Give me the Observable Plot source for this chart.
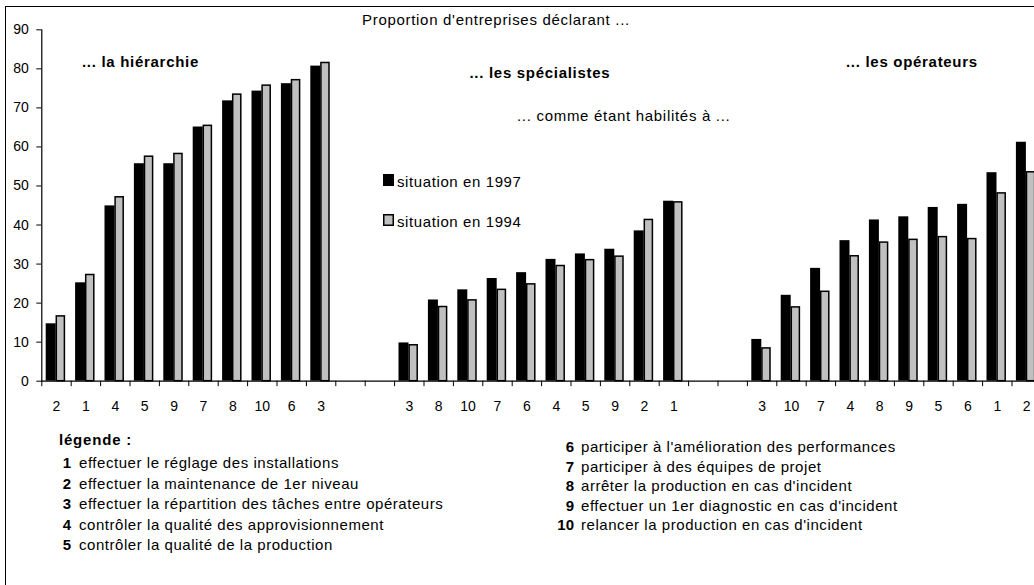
<!DOCTYPE html>
<html>
<head>
<meta charset="utf-8">
<script src="https://cdn.jsdelivr.net/npm/d3@7"></script>
<script src="https://cdn.jsdelivr.net/npm/@observablehq/plot@0.6"></script>
<style>
  html, body { margin: 0; padding: 0; overflow: hidden; background: #fff; }
  #wrap { position: relative; width: 1034px; height: 585px; overflow: hidden; }
  #border { position: absolute; left: 5px; top: 6px; width: 1200px; height: 800px; border: 1.5px solid #000; box-sizing: border-box; }
  #chart { position: absolute; left: 0; top: 0; width: 1060px; }
  #chart svg { max-width: none !important; }
  svg text.ann { font-family: "Liberation Sans", Arial, sans-serif; font-size: 15px; letter-spacing: 0.7px; fill: #000; text-anchor: start; }
</style>
</head>
<body>
<div id="wrap"><div id="border"></div><div id="chart"></div></div>
<script>
// ---- data ----
const groupTitles = ["... la hiérarchie", "... les spécialistes", "... les opérateurs"];
const labelsHier = ["2", "1", "4", "5", "9", "7", "8", "10", "6", "3"];
const hier1997 = [14.7, 25.2, 44.9, 55.7, 55.7, 65.1, 71.8, 74.3, 76.2, 80.7];
const hier1994 = [16.6, 27.2, 47.1, 57.5, 58.2, 65.4, 73.4, 75.7, 77.1, 81.5];
const labelsSpec = ["3", "8", "10", "7", "6", "4", "5", "9", "2", "1"];
const spec1997 = [9.8, 20.8, 23.4, 26.3, 27.8, 31.2, 32.6, 33.8, 38.5, 46.1];
const spec1994 = [9.2, 19.0, 20.7, 23.4, 24.8, 29.5, 31.0, 31.9, 41.3, 45.8];
const labelsOper = ["3", "10", "7", "4", "8", "9", "5", "6", "1", "2"];
const oper1997 = [10.7, 22.0, 28.9, 36.0, 41.3, 42.1, 44.5, 45.3, 53.4, 61.2];
const oper1994 = [8.4, 18.9, 22.9, 32.0, 35.5, 36.2, 36.9, 36.4, 48.1, 53.5];
const seriesNames = ["situation en 1997", "situation en 1994"];
const yTicks = [0, 10, 20, 30, 40, 50, 60, 70, 80, 90];
const title = "Proportion d'entreprises déclarant ...";
const subtitle = "... comme étant habilités à ...";
const legendTitle = "légende :";
const legendNums = ["1", "2", "3", "4", "5", "6", "7", "8", "9", "10"];
const legendTexts = [
  "effectuer le réglage des installations",
  "effectuer la maintenance de 1er niveau",
  "effectuer la répartition des tâches entre opérateurs",
  "contrôler la qualité des approvisionnement",
  "contrôler la qualité de la production",
  "participer à l'amélioration des performances",
  "participer à des équipes de projet",
  "arrêter la production en cas d'incident",
  "effectuer un 1er diagnostic en cas d'incident",
  "relancer la production en cas d'incident"
];

// ---- build slots ----
const groups = [
  {key: "H", labels: labelsHier, a: hier1997, b: hier1994},
  {key: "S", labels: labelsSpec, a: spec1997, b: spec1994},
  {key: "O", labels: labelsOper, a: oper1997, b: oper1994}
];
const slots = [];
const slotLabel = new Map();
const rows = [];
groups.forEach((g, gi) => {
  if (gi > 0) { slots.push(`gap${gi}a`); slots.push(`gap${gi}b`); }
  g.labels.forEach((lab, i) => {
    const id = `${g.key}-${lab}`;
    slots.push(id);
    slotLabel.set(id, lab);
    rows.push({slot: id, v1997: g.a[i], v1994: g.b[i]});
  });
});

const W = 1060, H = 585, ML = 41.3, MT = 29.3, MB = H - 380.7;
const bw = 29.4;
const MR = W - ML - bw * slots.length;

const chart = Plot.plot({
  width: W,
  height: H,
  marginLeft: ML,
  marginRight: MR,
  marginTop: MT,
  marginBottom: MB,
  style: {fontFamily: "'Liberation Sans', Arial, sans-serif", fontSize: "14px", background: "transparent", overflow: "visible", maxWidth: "none"},
  x: {type: "band", domain: slots, padding: 0, round: false, axis: null},
  y: {domain: [0, 90], axis: null},
  marks: [
    Plot.barY(rows, {x: "slot", y: "v1997", fill: "#000", insetLeft: 4.4, insetRight: 15}),
    Plot.barY(rows, {x: "slot", y: "v1994", fill: "#c0c0c0", stroke: "#000", strokeWidth: 1.5, insetLeft: 15, insetRight: 6.3}),
    Plot.ruleY([0], {stroke: "#000", strokeWidth: 1.2}),
    Plot.frame({anchor: "left", stroke: "#000", strokeWidth: 1.2}),
    Plot.ruleX(slots, {x: d => d, y1: 0, y2: -1.4, dx: -bw / 2, stroke: "#000", strokeWidth: 1}),
    Plot.axisY({ticks: yTicks, tickSize: 5, tickPadding: 8, fontSize: 14, label: null}),
    Plot.axisX({ticks: slots.filter(s => slotLabel.has(s)), tickSize: 0, tickPadding: 20, fontSize: 14, label: null, tickFormat: s => slotLabel.get(s)})
  ]
});
document.getElementById("chart").appendChild(chart);

// ---- annotations ----
const svg = d3.select(chart);
const ann = svg.append("g").attr("text-anchor", "start");
function txt(x, y, s, opts = {}) {
  const t = ann.append("text").attr("class", "ann").attr("x", x).attr("y", y).attr("text-anchor", opts.anchor || "start").text(s);
  if (opts.anchor) t.style("text-anchor", opts.anchor);
  if (opts.bold) t.attr("font-weight", "bold");
  if (opts.ls !== undefined) t.style("letter-spacing", opts.ls + "px");
  return t;
}
txt(362, 25, title);
txt(82, 66.5, groupTitles[0], {bold: true});
txt(469.5, 78.3, groupTitles[1], {bold: true});
txt(846, 66.5, groupTitles[2], {bold: true});
txt(517, 120.5, subtitle);

// series legend
ann.append("rect").attr("x", 383).attr("y", 174).attr("width", 11).attr("height", 12).attr("fill", "#000");
txt(397, 186.5, seriesNames[0], {ls: 0.6});
ann.append("rect").attr("x", 383.75).attr("y", 214.75).attr("width", 9.5).attr("height", 10.5).attr("fill", "#c0c0c0").attr("stroke", "#000").attr("stroke-width", 1.5);
txt(397, 226.5, seriesNames[1], {ls: 0.6});

// bottom legend
txt(59, 445, legendTitle, {bold: true, ls: 0.8});
legendNums.forEach((n, i) => {
  const left = i < 5;
  const row = i % 5;
  const base = left ? 468 + row * 20.5 : 452 + row * 19.5;
  const nx = left ? 71 : 574;
  txt(nx, base, n, {bold: true, anchor: "end", ls: 0});
  txt(nx + (left ? 8 : 7), base, legendTexts[i], {ls: 0.55});
});
</script>
</body>
</html>
